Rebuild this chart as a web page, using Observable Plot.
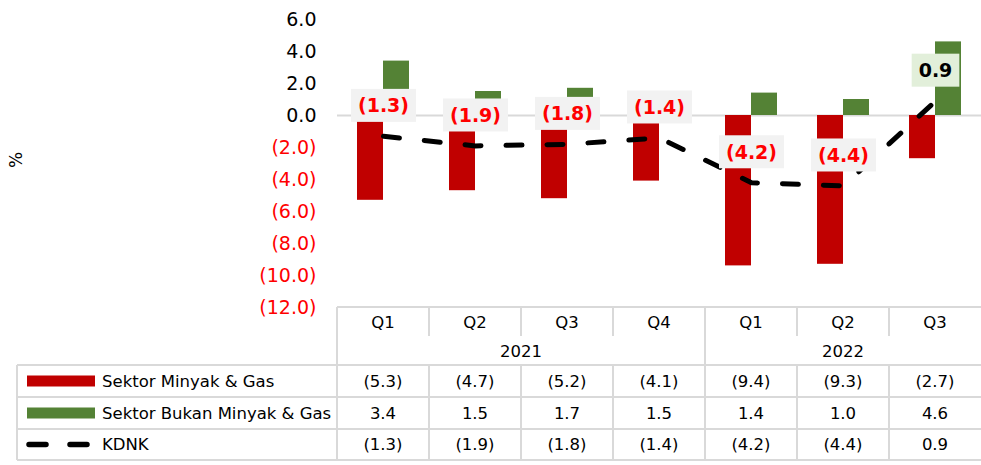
<!DOCTYPE html>
<html><head><meta charset="utf-8">
<script src="https://cdn.jsdelivr.net/npm/d3@7"></script>
<script src="https://cdn.jsdelivr.net/npm/@observablehq/plot@0.6"></script>
<style>body{margin:0;background:#fff} #chart{position:relative;width:981px;height:465px}</style>
</head><body><div id="chart"></div>
<script>
const years = ["2021","2021","2021","2021","2022","2022","2022"];
const quarters = ["Q1","Q2","Q3","Q4","Q1","Q2","Q3"];
const oilGas = [-5.3,-4.7,-5.2,-4.1,-9.4,-9.3,-2.7];
const nonOilGas = [3.4,1.5,1.7,1.5,1.4,1.0,4.6];
const kdnk = [-1.3,-1.9,-1.8,-1.4,-4.2,-4.4,0.9];
const seriesNames = ["Sektor Minyak & Gas","Sektor Bukan Minyak & Gas","KDNK"];
const yTicks = [-12,-10,-8,-6,-4,-2,0,2,4,6];
const yLabel = "%";

const keys = quarters.map((q,i)=>`${years[i]} ${q}`);
const rows = keys.map((k,i)=>({key:k, year:years[i], quarter:quarters[i], oil:oilGas[i], non:nonOilGas[i], kdnk:kdnk[i]}));
const fmt = v => v<0 ? `(${(-v).toFixed(1)})` : v.toFixed(1);
const RED="#c00000", GREEN="#548235", GRID="#d9d9d9", FONT="DejaVu Sans";

const plot = Plot.plot({
  width:981, height:465, marginLeft:337, marginRight:0, marginTop:19, marginBottom:158,
  style:{fontFamily:FONT, background:"#fff", overflow:"visible"},
  x:{domain:keys, type:"band", padding:0, axis:null},
  y:{domain:[-12,6], axis:null},
  marks:[
    Plot.ruleY([0], {stroke:GRID, strokeWidth:2}),
    Plot.barY(rows, {x:"key", y:"oil", fill:RED, insetLeft:20, insetRight:46}),
    Plot.barY(rows, {x:"key", y:"non", fill:GREEN, insetLeft:46, insetRight:20}),
    Plot.line(rows, {x:"key", y:"kdnk", stroke:"#000", strokeWidth:5, strokeDasharray:"16,25", strokeLinecap:"round", strokeLinejoin:"round"}),
    Plot.text(rows, {x:"key", y:"kdnk", text:d=>fmt(d.kdnk), dy:-30, fontSize:19, fontWeight:"bold", fill:d=>d.kdnk<0?"#ff0000":"#000000"}),
    Plot.axisY({ticks:yTicks, tickSize:0, tickPadding:21, tickFormat:fmt, fontSize:19, label:null})
  ]
});
document.getElementById("chart").appendChild(plot);
const svg = d3.select(plot);

// colour negative tick labels red
svg.selectAll('g[aria-label="y-axis tick label"] text').each(function(){
  const t = this.textContent;
  d3.select(this).attr("fill", t.startsWith("(") ? "#ff0000" : "#000");
});

// background boxes behind KDNK labels
const labelTexts = svg.selectAll('g[aria-label="text"] text').nodes();
labelTexts.forEach((node, i) => {
  const bb = node.getBBox();
  const v = kdnk[i];
  const cy = bb.y + bb.height/2;
  const r = document.createElementNS("http://www.w3.org/2000/svg","rect");
  const tr = node.getAttribute("transform");
  if (tr) r.setAttribute("transform", tr);
  r.setAttribute("x", bb.x - 7);
  r.setAttribute("width", bb.width + 14);
  r.setAttribute("y", cy - 16.5);
  r.setAttribute("height", 33);
  r.setAttribute("fill", v < 0 ? "#f2f2f2" : "#e2efda");
  r.setAttribute("stroke", "none");
  node.parentNode.insertBefore(r, node);
});

// y label
svg.append("text").attr("transform","translate(22,160) rotate(-90)")
  .attr("text-anchor","middle").attr("font-size",17).attr("font-family",FONT).text(yLabel);

// data table
const xs = plot.scale("x");
const bw = xs.bandwidth;
const left = xs.apply(keys[0]);
const right = xs.apply(keys[keys.length-1]) + bw;
const yTop = plot.scale("y").apply(-12);
const yQ = 336, yRows = [365, 397, 429, 460], legLeft = 17;
const g = svg.append("g").attr("stroke", GRID).attr("stroke-width", 2);
const line = (x1,y1,x2,y2) => g.append("line").attr("x1",x1).attr("y1",y1).attr("x2",x2).attr("y2",y2);
line(left, yTop, right, yTop);
yRows.forEach(y => line(legLeft, y, right, y));
line(left, yTop, left, yRows[3]);
line(legLeft, yRows[0], legLeft, yRows[3]);
keys.forEach((k,i)=>{
  if (i===0) return;
  const x = xs.apply(k);
  if (years[i] !== years[i-1]) line(x, yTop, x, yRows[3]);
  else { line(x, yTop, x, yQ); line(x, yRows[0], x, yRows[3]); }
});
const tg = svg.append("g").attr("font-family", FONT).attr("font-size", 16.5).attr("fill","#000");
const txt = (x,y,s,anchor="middle") => tg.append("text").attr("x",x).attr("y",y).attr("dy","0.35em").attr("text-anchor",anchor).text(s);
keys.forEach((k,i)=> txt(xs.apply(k)+bw/2, 322, quarters[i]));
d3.groups(keys.map((k,i)=>({k,y:years[i]})), d=>d.y).forEach(([yr, arr])=>{
  const x0 = xs.apply(arr[0].k), x1 = xs.apply(arr[arr.length-1].k) + bw;
  txt((x0+x1)/2, 351, yr);
});
const seriesVals = [oilGas, nonOilGas, kdnk];
seriesVals.forEach((vals, r)=>{
  const cy = (yRows[r] + yRows[r+1]) / 2;
  vals.forEach((v,i)=> txt(xs.apply(keys[i])+bw/2, cy, fmt(v)));
  txt(102, cy, seriesNames[r], "start");
  if (r < 2) {
    svg.append("rect").attr("x",27).attr("y",cy-5.5).attr("width",68).attr("height",11).attr("fill", r===0?RED:GREEN);
  } else {
    svg.append("line").attr("x1",29).attr("x2",88).attr("y1",cy).attr("y2",cy)
      .attr("stroke","#000").attr("stroke-width",5.5).attr("stroke-linecap","round").attr("stroke-dasharray","17,24");
  }
});
</script></body></html>
